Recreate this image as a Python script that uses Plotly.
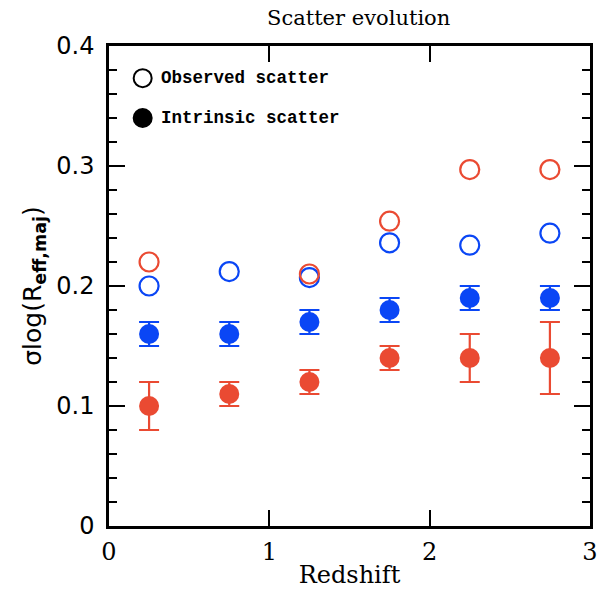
import plotly.graph_objects as go

redshift = [0.25, 0.75, 1.25, 1.75, 2.25, 2.75]

obs_red_z = [0.25, 1.25, 1.75, 2.25, 2.75]
obs_red = [0.220, 0.210, 0.254, 0.297, 0.297]
obs_blue = [0.200, 0.212, 0.207, 0.236, 0.234, 0.244]

int_blue = [0.16, 0.16, 0.17, 0.18, 0.19, 0.19]
int_blue_err = [0.01, 0.01, 0.01, 0.01, 0.01, 0.01]
int_red = [0.10, 0.11, 0.12, 0.14, 0.14, 0.14]
int_red_err = [0.02, 0.01, 0.01, 0.01, 0.02, 0.03]

x_ticks = [0, 1, 2, 3]
x_ticklabels = ["0", "1", "2", "3"]
y_ticks = [0, 0.1, 0.2, 0.3, 0.4]
y_ticklabels = ["0", "0.1", "0.2", "0.3", "0.4"]

RED = "#ea4a32"
BLUE = "#0a46f5"

fig = go.Figure()

fig.add_trace(go.Scatter(
    x=redshift, y=obs_blue, mode="markers",
    marker=dict(symbol="circle-open", size=19, color=BLUE, line=dict(width=2.2, color=BLUE)),
    showlegend=False))
fig.add_trace(go.Scatter(
    x=obs_red_z, y=obs_red, mode="markers",
    marker=dict(symbol="circle-open", size=19, color=RED, line=dict(width=2.2, color=RED)),
    showlegend=False))
fig.add_trace(go.Scatter(
    x=redshift, y=int_blue, mode="markers",
    error_y=dict(type="data", array=int_blue_err, color=BLUE, thickness=2.2, width=10),
    marker=dict(symbol="circle", size=20, color=BLUE),
    showlegend=False))
fig.add_trace(go.Scatter(
    x=redshift, y=int_red, mode="markers",
    error_y=dict(type="data", array=int_red_err, color=RED, thickness=2.2, width=10),
    marker=dict(symbol="circle", size=20, color=RED),
    showlegend=False))

# legend drawn with shapes and annotations
legend_items = [("Observed scatter", False, 0.933), ("Intrinsic scatter", True, 0.850)]
for label, filled, yp in legend_items:
    fig.add_shape(type="circle", xref="paper", yref="paper",
                  xsizemode="pixel", ysizemode="pixel",
                  xanchor=0.07, yanchor=yp, x0=-9, x1=9, y0=-9, y1=9,
                  line=dict(color="black", width=2),
                  fillcolor="black" if filled else "white")
    fig.add_annotation(xref="paper", yref="paper", x=0.103, y=yp,
                       text="<b>" + label + "</b>", showarrow=False,
                       xanchor="left", yanchor="middle",
                       font=dict(family="Liberation Mono", size=17.5, color="black"))

axis_common = dict(showline=True, linecolor="black", linewidth=2.5, mirror="ticks",
                   ticks="inside", tickcolor="black", tickwidth=2,
                   showgrid=False, zeroline=False)

fig.update_xaxes(range=[0, 3], tickvals=x_ticks, ticktext=x_ticklabels,
                 ticklen=16, ticklabelstandoff=2,
                 tickfont=dict(family="DejaVu Serif", size=24, color="black"),
                 title=dict(text="Redshift", font=dict(family="DejaVu Serif", size=24, color="black"), standoff=2),
                 **axis_common)
fig.update_yaxes(range=[0, 0.4], tickvals=y_ticks, ticktext=y_ticklabels,
                 ticklen=16, ticklabelstandoff=7,
                 tickfont=dict(family="DejaVu Sans", size=24, color="black"),
                 minor=dict(dtick=0.02, ticks="inside", ticklen=8, tickcolor="black", tickwidth=2),
                 title=dict(text="σlog(R<sub><b>eff,maj</b></sub>)", font=dict(family="DejaVu Sans", size=25, color="black"), standoff=8),
                 **axis_common)

fig.update_layout(
    width=610, height=596,
    margin=dict(l=109, r=15, t=46, b=69),
    paper_bgcolor="white", plot_bgcolor="white",
    title=dict(text="Scatter evolution", x=0.588, xanchor="center", y=0.971, yanchor="middle",
               font=dict(family="DejaVu Serif", size=21, color="black")),
)

fig.write_html("out.html")
